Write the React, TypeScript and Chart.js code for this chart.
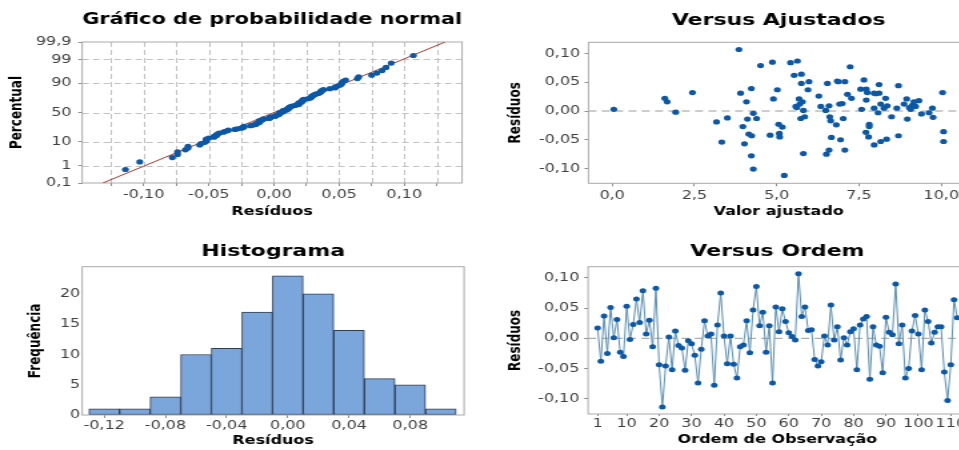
import React, { useEffect, useRef } from 'react';
import { Chart, registerables } from 'chart.js';

Chart.register(...registerables);

// horizontal stretch of the whole picture
const S = 1.332;
const FONT = '"DejaVu Sans", Verdana, sans-serif';
const TICK_COLOR = '#404040';
const DOT = '#0b58a6';

// ---------- data ----------
const orderResiduals = [
  0.017, -0.038, 0.037, -0.025, 0.051, 0.001, 0.031, -0.023, -0.030, 0.053,
  -0.002, 0.023, 0.065, 0.026, 0.079, 0.007, 0.030, -0.014, 0.083, -0.044,
  -0.114, -0.046, 0.002, -0.052, 0.012, -0.012, -0.016, -0.053, -0.004, -0.009,
  -0.028, -0.074, -0.018, 0.029, 0.004, 0.007, -0.078, 0.022, 0.075, 0.004,
  -0.042, 0.004, -0.043, -0.066, -0.014, -0.011, 0.029, -0.024, 0.047, 0.086,
  0.021, 0.043, -0.023, 0.021, -0.074, 0.052, 0.011, 0.049, 0.028, 0.009,
  0.003, -0.003, 0.107, 0.036, 0.052, 0.013, 0.014, -0.035, -0.046, -0.039,
  0.004, -0.011, 0.055, -0.003, 0.019, -0.036, 0.001, -0.011, 0.011, 0.016,
  -0.052, 0.022, 0.032, 0.036, -0.068, 0.019, -0.011, -0.013, -0.057, 0.035,
  0.010, 0.006, 0.090, -0.009, 0.022, -0.066, -0.050, 0.012, 0.038, 0.007,
  -0.052, 0.047, 0.028, -0.008, 0.010, 0.019, 0.019, -0.056, -0.103, -0.044,
  0.064, 0.034,
];

const fittedValues = [
  0.05, 1.60, 1.67, 1.93, 2.44, 3.17, 3.33, 3.50, 3.90, 3.85,
  3.97, 4.02, 4.08, 4.11, 4.23, 4.15, 4.24, 4.23, 4.29, 4.29,
  4.39, 4.51, 4.80, 4.87, 4.90, 5.02, 5.06, 5.08, 5.09, 5.17,
  5.23, 5.42, 5.53, 5.63, 5.58, 5.68, 5.70, 5.73, 5.75, 5.75,
  5.78, 5.81, 5.85, 5.81, 5.98, 5.95, 6.28, 6.34, 6.49, 6.51,
  6.54, 6.59, 6.59, 6.61, 6.64, 6.66, 6.81, 6.87, 6.91, 6.94,
  6.99, 7.02, 7.07, 7.07, 7.15, 7.23, 7.27, 7.55, 7.58, 7.65,
  7.72, 7.75, 7.72, 7.71, 7.79, 7.81, 7.81, 7.96, 7.96, 7.96,
  8.08, 8.11, 8.11, 8.16, 8.16, 8.26, 8.31, 8.34, 8.36, 8.49,
  8.65, 8.70, 8.70, 8.87, 8.95, 8.97, 9.07, 9.12, 9.17, 9.22,
  9.40, 9.63, 9.73, 9.75, 10.04, 10.07, 10.07, 8.01, 9.03, 9.32,
  5.61, 6.84,
];
const fittedResiduals = [
  0.003, 0.022, 0.016, -0.002, 0.032, -0.019, -0.054, -0.012, 0.031, 0.107,
  -0.027, -0.057, 0.016, -0.014, 0.039, -0.040, -0.043, -0.078, -0.101, -0.004,
  -0.013, 0.079, -0.042, 0.085, 0.021, 0.037, -0.023, -0.039, -0.045, -0.028,
  -0.112, 0.084, 0.062, 0.087, 0.008, 0.021, 0.012, -0.013, 0.064, 0.048,
  0.016, -0.074, -0.010, 0.001, 0.051, 0.037, 0.026, 0.008, 0.001, -0.075,
  0.048, 0.009, -0.068, -0.010, -0.017, -0.046, -0.024, 0.051, 0.012, -0.050,
  0.013, -0.013, 0.051, -0.068, 0.029, 0.077, 0.022, 0.038, 0.003, 0.054,
  0.038, 0.032, 0.019, -0.037, -0.045, -0.023, -0.027, 0.005, 0.031, -0.059,
  -0.003, 0.046, 0.031, 0.012, -0.053, 0.005, 0.022, -0.049, 0.009, -0.010,
  0.005, -0.043, 0.044, 0.012, 0.021, -0.014, 0.003, 0.010, 0.016, 0.008,
  -0.005, -0.003, 0.005, -0.011, 0.032, -0.036, -0.053, 0.030, 0.006, 0.018,
  0.006, 0.052,
];

const histBinCenters = [-0.12, -0.10, -0.08, -0.06, -0.04, -0.02, 0.0, 0.02, 0.04, 0.06, 0.08, 0.10];
const histCounts = [1, 1, 3, 10, 11, 17, 23, 20, 14, 6, 5, 1];

const fitMean = 0.0;
const fitStdDev = 0.0425;

// ---------- tick values / labels ----------
const probTickZ = [-3.0902, -2.3263, -1.2816, 0, 1.2816, 2.3263, 3.0902];
const probTickLabels = ['0,1', '1', '10', '50', '90', '99', '99,9'];
const probXTicks = [-0.125, -0.1, -0.075, -0.05, -0.025, 0, 0.025, 0.05, 0.075, 0.1, 0.125];
const probXLabels = ['', '-0,10', '', '-0,05', '', '0,00', '', '0,05', '', '0,10', ''];

const histXTicks = [-0.12, -0.08, -0.04, 0, 0.04, 0.08];
const histXLabels = ['-0,12', '-0,08', '-0,04', '0,00', '0,04', '0,08'];
const histYTicks = [0, 5, 10, 15, 20];
const histYLabels = ['0', '5', '10', '15', '20'];

const residTicks = [-0.1, -0.05, 0, 0.05, 0.1];
const residLabels = ['-0,10', '-0,05', '0,00', '0,05', '0,10'];
const fitXTicks = [0, 2.5, 5, 7.5, 10];
const fitXLabels = ['0,0', '2,5', '5,0', '7,5', '10,0'];
const orderXTicks = [1, 10, 20, 30, 40, 50, 60, 70, 80, 90, 100, 110];
const orderXLabels = ['1', '10', '20', '30', '40', '50', '60', '70', '80', '90', '100', '110'];

// inverse standard normal CDF (Acklam)
function invNorm(p: number): number {
  const a = [-3.969683028665376e1, 2.209460984245205e2, -2.759285104469687e2, 1.38357751867269e2, -3.066479806614716e1, 2.506628277459239];
  const b = [-5.447609879822406e1, 1.615858368580409e2, -1.556989798598866e2, 6.680131188771972e1, -1.328068155288572e1];
  const c = [-7.784894002430293e-3, -3.223964580411365e-1, -2.400758277161838, -2.549671010243888, 4.374664141464968, 2.938163982698783];
  const d = [7.784695709041462e-3, 3.224671290700398e-1, 2.445134137142996, 3.754408661907416];
  const pl = 0.02425;
  if (p < pl) {
    const q = Math.sqrt(-2 * Math.log(p));
    return (((((c[0] * q + c[1]) * q + c[2]) * q + c[3]) * q + c[4]) * q + c[5]) / ((((d[0] * q + d[1]) * q + d[2]) * q + d[3]) * q + 1);
  }
  if (p <= 1 - pl) {
    const q = p - 0.5;
    const r = q * q;
    return ((((((a[0] * r + a[1]) * r + a[2]) * r + a[3]) * r + a[4]) * r + a[5]) * q) / (((((b[0] * r + b[1]) * r + b[2]) * r + b[3]) * r + b[4]) * r + 1);
  }
  const q = Math.sqrt(-2 * Math.log(1 - p));
  return -(((((c[0] * q + c[1]) * q + c[2]) * q + c[3]) * q + c[4]) * q + c[5]) / ((((d[0] * q + d[1]) * q + d[2]) * q + d[3]) * q + 1);
}

type AxisSpec = {
  min: number; max: number; ticks: number[]; labels: string[];
  size: number; tickLen: number; pad: number; title: string;
  titlePad: { top: number; bottom: number };
};

function makeAxis(a: AxisSpec, horizontal: boolean) {
  return {
    type: 'linear',
    position: horizontal ? 'bottom' : 'left',
    min: a.min,
    max: a.max,
    bounds: 'data',
    offset: false,
    afterBuildTicks: (s: any) => { s.ticks = a.ticks.map((v) => ({ value: v })); },
    afterFit: (s: any) => { if (horizontal) s.height = a.size; else s.width = a.size; },
    ticks: {
      callback: (_v: any, i: number) => a.labels[i],
      padding: a.pad,
      color: TICK_COLOR,
      font: { family: FONT, size: 12 },
      autoSkip: false,
      maxRotation: 0,
      minRotation: 0,
    },
    grid: {
      display: true,
      offset: false,
      drawOnChartArea: false,
      color: '#8e8e8e',
      lineWidth: 1,
      drawTicks: a.tickLen > 0,
      tickLength: a.tickLen,
      tickColor: '#8e8e8e',
      tickWidth: 1,
    },
    border: { display: false },
    title: {
      display: true,
      text: a.title,
      color: '#000',
      font: { family: FONT, size: 12, weight: 'bold' },
      padding: a.titlePad,
    },
  };
}

// plot-area frame, plus optional dashed grid at given axis values
function framePlugin(gridX: number[] = [], gridY: number[] = []) {
  return {
    id: 'frame',
    beforeDatasetsDraw(chart: any) {
      const { ctx, chartArea: ar, scales } = chart;
      ctx.save();
      ctx.lineWidth = 1;
      ctx.strokeStyle = '#c2c2c2';
      ctx.setLineDash([5, 3]);
      gridX.forEach((v) => {
        const px = Math.round(scales.x.getPixelForValue(v)) + 0.5;
        ctx.beginPath();
        ctx.moveTo(px, ar.top);
        ctx.lineTo(px, ar.bottom);
        ctx.stroke();
      });
      gridY.forEach((v) => {
        const py = Math.round(scales.y.getPixelForValue(v)) + 0.5;
        ctx.beginPath();
        ctx.moveTo(ar.left, py);
        ctx.lineTo(ar.right, py);
        ctx.stroke();
      });
      ctx.setLineDash([]);
      ctx.strokeStyle = '#a9a9a9';
      ctx.strokeRect(ar.left, ar.top, ar.right - ar.left, ar.bottom - ar.top);
      ctx.restore();
    },
  };
}

function baseOptions(title: string, tPad: { top: number; bottom: number }, rightPad: number, x: any, y: any) {
  return {
    responsive: false,
    animation: false,
    events: [],
    layout: { padding: { left: 0, right: rightPad, top: 0, bottom: 0 } },
    plugins: {
      legend: { display: false },
      tooltip: { enabled: false },
      title: {
        display: true,
        text: title,
        color: '#000',
        fullSize: false,
        font: { family: FONT, size: 16.5, weight: 'bold', lineHeight: 1.2 },
        padding: tPad,
      },
    },
    scales: { x, y },
  };
}

function probConfig(): any {
  const sorted = [...orderResiduals].sort((p, q) => p - q);
  const n = sorted.length;
  const pts = sorted.map((r, i) => ({ x: r, y: invNorm((i + 1 - 0.3) / (n + 0.4)) }));
  const zLo = probTickZ[0];
  const zHi = probTickZ[probTickZ.length - 1];
  const line = [
    { x: fitMean + fitStdDev * zLo, y: zLo },
    { x: fitMean + fitStdDev * zHi, y: zHi },
  ];
  const x = makeAxis({ min: -0.1472, max: 0.1444, ticks: probXTicks, labels: probXLabels, size: 42, tickLen: 3, pad: 1.8, title: 'Resíduos', titlePad: { top: 0, bottom: 5.8 } }, true);
  const y = makeAxis({ min: zLo, max: zHi, ticks: probTickZ, labels: probTickLabels, size: 61.65, tickLen: 3, pad: 5, title: 'Percentual', titlePad: { top: 6, bottom: 0 } }, false);
  return {
    type: 'scatter',
    data: {
      datasets: [
        { data: pts, pointRadius: 2.6, pointBackgroundColor: DOT, pointBorderColor: DOT, pointBorderWidth: 0, showLine: false },
        { data: line, showLine: true, pointRadius: 0, borderColor: '#a8392d', borderWidth: 1 },
      ],
    },
    options: baseOptions('Gráfico de probabilidade normal', { top: 10.1, bottom: 12.1 }, 13.4, x, y),
    plugins: [framePlugin(probXTicks, probTickZ.slice(1, -1))],
  };
}

function fitsConfig(): any {
  const pts = fittedValues.map((v, i) => ({ x: v, y: fittedResiduals[i] }));
  const xMin = -0.72, xMax = 10.84;
  const x = makeAxis({ min: xMin, max: xMax, ticks: fitXTicks, labels: fitXLabels, size: 41.7, tickLen: 3, pad: 2.8, title: 'Valor ajustado', titlePad: { top: 0, bottom: 5.8 } }, true);
  const y = makeAxis({ min: -0.1257, max: 0.1195, ticks: residTicks, labels: residLabels, size: 81.4, tickLen: 3, pad: 3.2, title: 'Resíduos', titlePad: { top: 19.7, bottom: 0 } }, false);
  return {
    type: 'scatter',
    data: {
      datasets: [
        { data: pts, pointRadius: 2.6, pointBackgroundColor: DOT, pointBorderColor: DOT, pointBorderWidth: 0, showLine: false },
        { data: [{ x: xMin, y: 0 }, { x: xMax, y: 0 }], showLine: true, pointRadius: 0, borderColor: '#9a9a9a', borderWidth: 1, borderDash: [6, 4] },
      ],
    },
    options: baseOptions('Versus Ajustados', { top: 10.4, bottom: 12.1 }, 33.1, x, y),
    plugins: [framePlugin()],
  };
}

function histConfig(): any {
  const bars = histBinCenters.map((c, i) => ({ x: c, y: histCounts[i] }));
  const x = makeAxis({ min: -0.1344, max: 0.1152, ticks: histXTicks, labels: histXLabels, size: 35, tickLen: 3, pad: 0.6, title: 'Resíduos', titlePad: { top: 0, bottom: 1.8 } }, true);
  const y = makeAxis({ min: 0, max: 24.5, ticks: histYTicks, labels: histYLabels, size: 61.65, tickLen: 0, pad: 1.5, title: 'Frequência', titlePad: { top: 19.5, bottom: 0 } }, false);
  return {
    type: 'bar',
    data: {
      datasets: [
        { data: bars, backgroundColor: '#7ba6db', borderColor: '#2c3e57', borderWidth: 1, borderSkipped: false, barPercentage: 1, categoryPercentage: 1 },
      ],
    },
    options: baseOptions('Histograma', { top: 17.3, bottom: 4.6 }, 11.9, x, y),
    plugins: [framePlugin()],
  };
}

function orderConfig(): any {
  const pts = orderResiduals.map((r, i) => ({ x: i + 1, y: r }));
  const xMin = -1.93, xMax = 114.93;
  const x = makeAxis({ min: xMin, max: xMax, ticks: orderXTicks, labels: orderXLabels, size: 36, tickLen: 2, pad: 0.5, title: 'Ordem de Observação', titlePad: { top: 0, bottom: 2.8 } }, true);
  const y = makeAxis({ min: -0.1255, max: 0.1187, ticks: residTicks, labels: residLabels, size: 81.1, tickLen: 3, pad: 3.5, title: 'Resíduos', titlePad: { top: 19.7, bottom: 0 } }, false);
  return {
    type: 'scatter',
    data: {
      datasets: [
        { data: pts, showLine: true, borderColor: '#5a8fb3', borderWidth: 1, pointRadius: 2.5, pointBackgroundColor: DOT, pointBorderColor: DOT, pointBorderWidth: 0 },
        { data: [{ x: xMin, y: 0 }, { x: xMax, y: 0 }], showLine: true, pointRadius: 0, borderColor: '#9a9a9a', borderWidth: 1, borderDash: [6, 4] },
      ],
    },
    options: baseOptions('Versus Ordem', { top: 16.6, bottom: 5.3 }, 34.7, x, y),
    plugins: [framePlugin()],
  };
}

const panels = [
  { key: 'prob', left: 0, top: 0, w: 360, make: probConfig },
  { key: 'fits', left: 480, top: 0, w: 400, make: fitsConfig },
  { key: 'hist', left: 0, top: 225, w: 360, make: histConfig },
  { key: 'order', left: 480, top: 225, w: 400, make: orderConfig },
];

export default function App() {
  const refs = useRef<(HTMLCanvasElement | null)[]>([]);

  useEffect(() => {
    const charts: Chart[] = [];
    panels.forEach((p, i) => {
      const cv = refs.current[i];
      if (cv) charts.push(new Chart(cv, p.make()));
    });
    return () => charts.forEach((c) => c.destroy());
  }, []);

  return (
    <div style={{ position: 'fixed', left: 0, top: 0, width: 959, height: 450, overflow: 'hidden', background: '#fff' }}>
      {panels.map((p, i) => (
        <canvas
          key={p.key}
          ref={(el) => { refs.current[i] = el; }}
          width={p.w}
          height={225}
          style={{ position: 'absolute', left: p.left, top: p.top, width: p.w * S, height: 225, display: 'block' }}
        />
      ))}
    </div>
  );
}
